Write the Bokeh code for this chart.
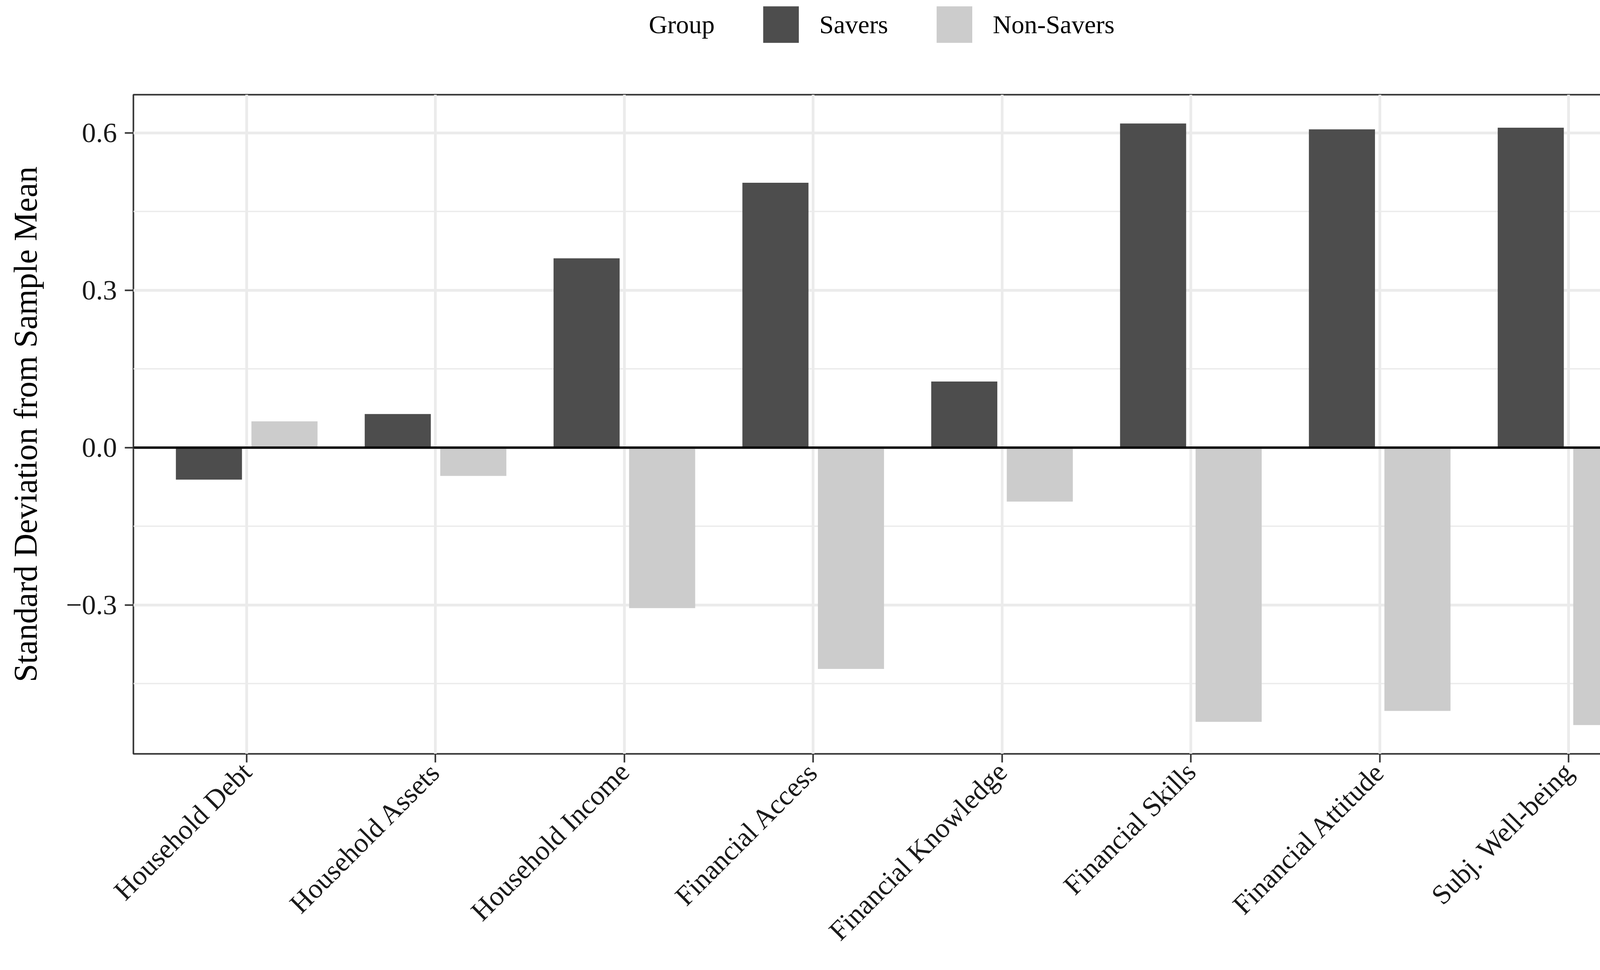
import math
from bokeh.plotting import figure
from bokeh.layouts import column
from bokeh.models import (ColumnDataSource, FactorRange, Range1d, FixedTicker, Span,
                          Legend, LegendItem)
from bokeh.transform import dodge
from bokeh.embed import file_html
from bokeh.resources import INLINE

# ---- data ----
categories = ["Household Debt", "Household Assets", "Household Income", "Financial Access",
              "Financial Knowledge", "Financial Skills", "Financial Attitude", "Subj. Well-being"]
savers = [-0.061, 0.064, 0.361, 0.505, 0.126, 0.618, 0.607, 0.610]
non_savers = [0.050, -0.054, -0.306, -0.422, -0.103, -0.523, -0.502, -0.529]
group_names = ["Savers", "Non-Savers"]
group_colors = ["#4D4D4D", "#CCCCCC"]
y_ticks = [-0.3, 0.0, 0.3, 0.6]
y_tick_labels = ["\u22120.3", "0.0", "0.3", "0.6"]
y_minor = [-0.45, -0.15, 0.15, 0.45]
y_label = "Standard Deviation from Sample Mean"
legend_title = "Group"

FONT = "Liberation Serif"

src = ColumnDataSource(dict(cat=categories, savers=savers, non=non_savers))

W = 4319
TOP_H = 232
MAIN_H = 2468 - TOP_H

# ---------------- main chart ----------------
x_range = FactorRange(factors=categories, range_padding=0.1, range_padding_units="absolute")
p = figure(width=W, height=MAIN_H, output_backend="svg", toolbar_location=None, title=None,
           x_range=x_range, y_range=Range1d(-0.584, 0.673),
           min_border_left=341, min_border_right=14, min_border_top=10, min_border_bottom=538)
p.background_fill_color = "white"
p.border_fill_color = "white"
p.outline_line_color = "#333333"
p.outline_line_width = 4

p.vbar(x=dodge("cat", -0.2, range=x_range), top="savers", bottom=0, width=0.35,
       source=src, fill_color=group_colors[0], line_color=None)
p.vbar(x=dodge("cat", 0.2, range=x_range), top="non", bottom=0, width=0.35,
       source=src, fill_color=group_colors[1], line_color=None)

p.add_layout(Span(location=0, dimension="width", line_color="black", line_width=6))

# grids
p.xgrid.grid_line_color = "#EBEBEB"
p.xgrid.grid_line_width = 7
p.ygrid.grid_line_color = "#EBEBEB"
p.ygrid.grid_line_width = 7
p.ygrid.minor_grid_line_color = "#EBEBEB"
p.ygrid.minor_grid_line_width = 3.5
p.yaxis.ticker = FixedTicker(ticks=y_ticks, minor_ticks=y_minor)
p.ygrid.ticker = FixedTicker(ticks=y_ticks, minor_ticks=y_minor)

for ax in (p.xaxis[0], p.yaxis[0]):
    ax.axis_line_color = None
    ax.major_tick_line_color = "#333333"
    ax.major_tick_line_width = 4
    ax.major_tick_out = 22
    ax.major_tick_in = 0
    ax.minor_tick_line_color = None
    ax.major_label_text_font = FONT
    ax.major_label_text_color = "#1A1A1A"

p.yaxis.major_label_text_font_size = "72px"
p.yaxis.major_label_standoff = 20
p.yaxis.major_label_overrides = dict(zip(y_ticks, y_tick_labels))
p.yaxis.axis_label = y_label
p.yaxis.axis_label_text_font = FONT
p.yaxis.axis_label_text_font_size = "84px"
p.yaxis.axis_label_text_font_style = "normal"
p.yaxis.axis_label_text_color = "black"
p.yaxis.axis_label_standoff = 54

p.xaxis.major_label_text_font_size = "71px"
p.xaxis.major_label_orientation = math.pi / 4
p.xaxis.major_label_standoff = 12

# ---------------- legend band on top ----------------
# same series drawn in a band whose y-range lies outside the data, so only the legend shows
lg = figure(width=W, height=TOP_H, output_backend="svg", toolbar_location=None, title=None,
            x_axis_type=None, y_axis_type=None,
            x_range=x_range, y_range=Range1d(5, 6),
            min_border_left=341, min_border_right=14, min_border_top=0, min_border_bottom=0)
lg.outline_line_color = None
lg.background_fill_color = "white"
lg.border_fill_color = "white"

k0 = lg.vbar(x=[], top=[], width=1, fill_alpha=0, line_alpha=0)
k1 = lg.vbar(x=dodge("cat", -0.2, range=x_range), top="savers", bottom=0, width=0.35,
             source=src, fill_color=group_colors[0], line_color=None)
k2 = lg.vbar(x=dodge("cat", 0.2, range=x_range), top="non", bottom=0, width=0.35,
             source=src, fill_color=group_colors[1], line_color=None)

# area legend glyphs are drawn at 80% of the glyph box -> 114x117 box gives ~91x94 keys
legend = Legend(items=[LegendItem(label=legend_title, renderers=[k0]),
                       LegendItem(label=group_names[0], renderers=[k1]),
                       LegendItem(label=group_names[1], renderers=[k2]),
                       LegendItem(label=" ", renderers=[k0])],
                orientation="horizontal", location="top_center",
                glyph_width=114, glyph_height=117, label_standoff=42, spacing=112,
                padding=0, margin=4, border_line_color=None,
                background_fill_alpha=0,
                label_text_font=FONT, label_text_font_size="66px", label_text_color="black",
                label_height=117)
lg.add_layout(legend, "center")

layout = column(lg, p, spacing=0)

open("out.html", "w").write(file_html(layout, INLINE))
